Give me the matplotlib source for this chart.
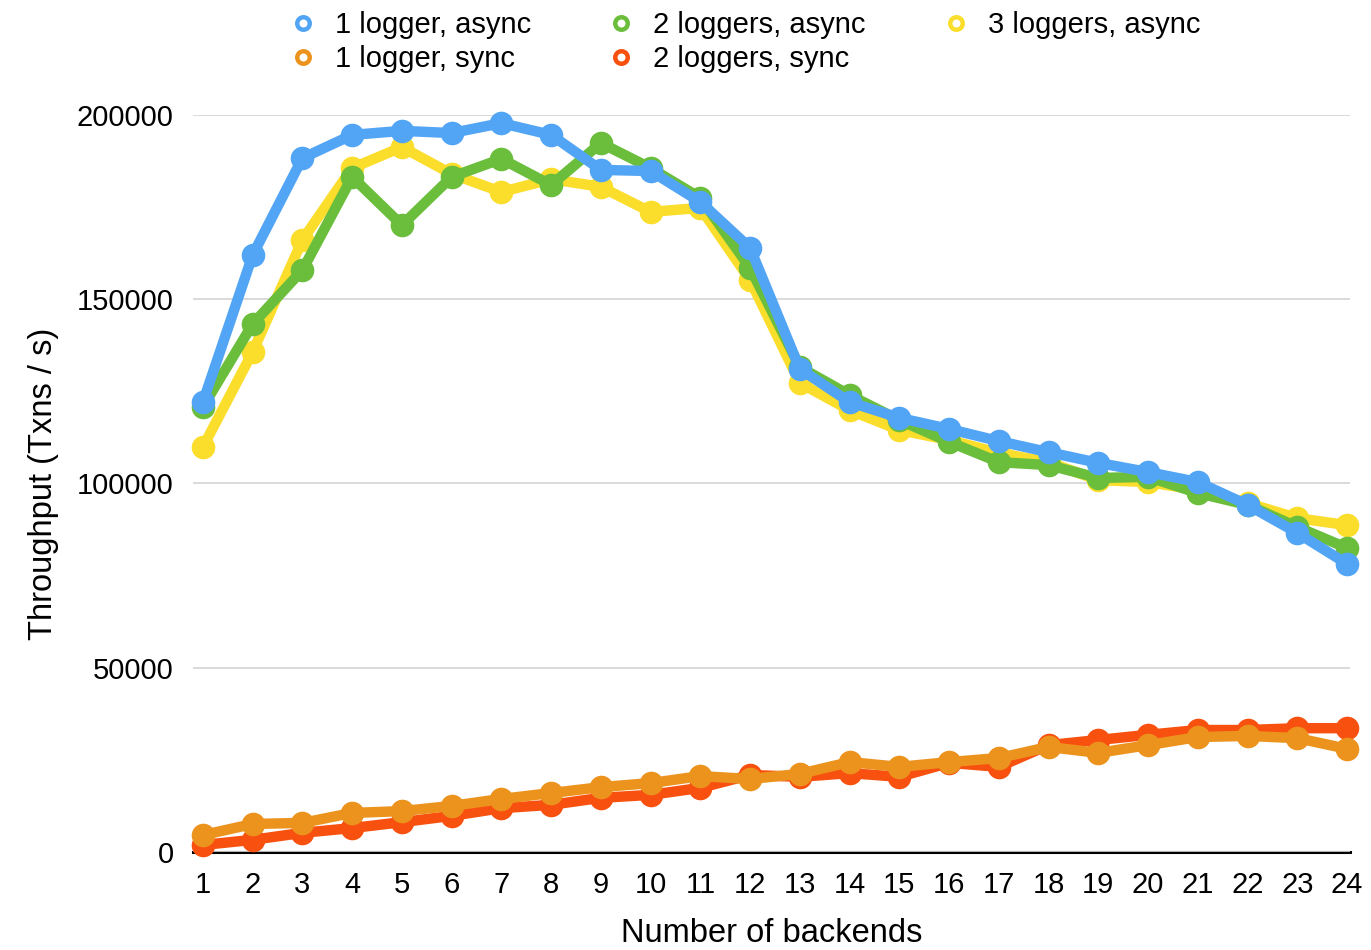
#!/usr/bin/env python3
"""Throughput vs number of backends for async / sync logger setups."""

import matplotlib

matplotlib.use("Agg")
import matplotlib.pyplot as plt
from matplotlib.lines import Line2D

backends = list(range(1, 25))

one_logger_async = [122100, 162000, 188300, 194600, 195700, 195100, 197800, 194600,
                    185100, 184800, 176400, 163900, 131100, 122100, 117800, 114800,
                    111500, 108500, 105600, 103100, 100400, 94200, 86600, 78200]
two_loggers_async = [120800, 143300, 157900, 183200, 170100, 183200, 188100, 181000,
                     192400, 185600, 177500, 158500, 131600, 124000, 117200, 111300,
                     105800, 105000, 101500, 101800, 97400, 94200, 88200, 82500]
three_loggers_async = [109900, 135700, 166100, 185600, 191300, 184000, 179100, 182600,
                       180500, 173700, 174800, 155200, 127300, 119900, 114500, 111800,
                       108300, 105800, 100900, 100400, 98200, 94700, 90600, 88700]
one_logger_sync = [4600, 7600, 7900, 10600, 11100, 12500, 14400, 16000, 17600, 18700,
                   20600, 19800, 21200, 24400, 23100, 24400, 25500, 28500, 26900, 29000,
                   31200, 31500, 30900, 28000]
two_loggers_sync = [1900, 3300, 5200, 6500, 8100, 9800, 11900, 12800, 14700, 15500,
                    17400, 20900, 20400, 21400, 20400, 24200, 23100, 29000, 30400, 31800,
                    33100, 33100, 33600, 33600]

y_ticks = [0, 50000, 100000, 150000, 200000]

BLUE = "#52a5f5"
GREEN = "#6abe3c"
YELLOW = "#fbdd2b"
ORANGE = "#ec931e"
RED = "#f8510f"

plt.rcParams["font.family"] = ["Liberation Sans", "DejaVu Sans"]

fig = plt.figure(figsize=(13.71, 9.5), dpi=100)
W, H = 1371, 950
ax = fig.add_axes([193 / W, (H - 852) / H, (1350 - 193) / W, (852 - 115) / H])

# draw order: bottom first
series = [
    (two_loggers_sync, RED),
    (one_logger_sync, ORANGE),
    (three_loggers_async, YELLOW),
    (two_loggers_async, GREEN),
    (one_logger_async, BLUE),
]
for vals, color in series:
    ax.plot(backends, vals, color=color, lw=7.5, marker="o", markersize=17,
            markeredgewidth=0, solid_joinstyle="round", clip_on=False)

ax.set_xlim(0.8, 24.06)
ax.set_ylim(0, 200000)
ax.set_xticks(backends)
ax.set_yticks(y_ticks)
ax.set_yticklabels([str(t) for t in y_ticks])
ax.tick_params(axis="both", length=0, labelsize=21)
ax.tick_params(axis="x", pad=14)
ax.tick_params(axis="y", pad=14)
ax.grid(axis="y", color="#d4d4d4", lw=1.2)
ax.set_axisbelow(True)
for side in ("top", "right", "left"):
    ax.spines[side].set_visible(False)
ax.spines["bottom"].set_linewidth(2.2)
ax.spines["bottom"].set_color("black")
ax.spines["bottom"].set_zorder(0.5)

ax.set_xlabel("Number of backends", fontsize=23.5, labelpad=13)
ax.set_ylabel("Throughput (Txns / s)", fontsize=23.5, labelpad=13)

labels = ["1 logger, async", "1 logger, sync", "2 loggers, async",
          "2 loggers, sync", "3 loggers, async"]
colors = [BLUE, ORANGE, GREEN, RED, YELLOW]
handles = [Line2D([], [], ls="none", marker="o", markersize=9, markerfacecolor="white",
                  markeredgecolor=c, markeredgewidth=3.2) for c in colors]
fig.legend(handles, labels, ncol=3, loc="upper left",
           bbox_to_anchor=(288 / W, 1 - 11 / H), frameon=False, fontsize=21,
           handlelength=1.0, handletextpad=0.6, columnspacing=2.6,
           labelspacing=0.2, borderpad=0, borderaxespad=0)

fig.savefig("out.png", dpi=100)
